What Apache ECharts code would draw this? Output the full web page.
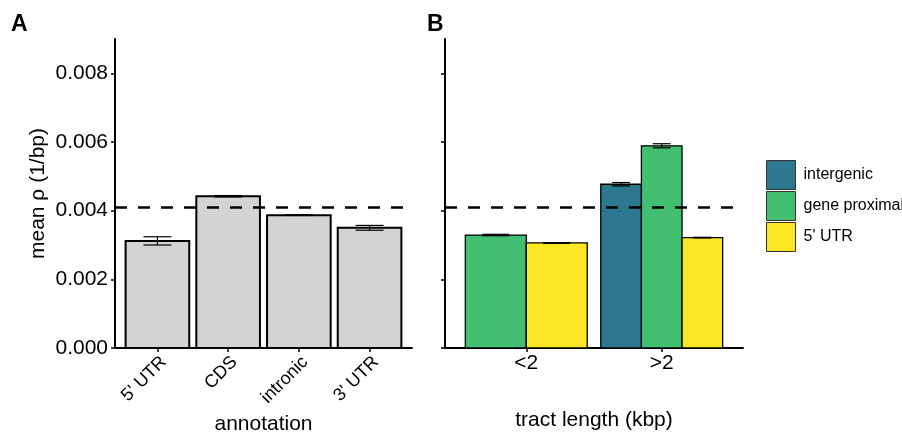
<!DOCTYPE html>
<html>
<head>
<meta charset="utf-8">
<script src="https://cdn.jsdelivr.net/npm/echarts@6/dist/echarts.min.js"></script>
<style>
  html, body { margin: 0; padding: 0; background: #fff; }
  #chart { width: 902px; height: 433px; }
</style>
</head>
<body>
<div id="chart"></div>
<script>
// panel A: mean rho by annotation
const annotations = ["5' UTR", 'CDS', 'intronic', "3' UTR"]
const annotMean = [0.00312, 0.00442, 0.00387, 0.00350]
const annotSe = [0.00012, 0.00002, 0.00001, 0.00007]

// panel B: mean rho by tract length and region
const tractGroups = ['<2', '>2']
const regionTypes = ['intergenic', 'gene proximal', "5' UTR"]
const regionColors = ['#2c788e', '#43bf71', '#fde725']
const intergenicMean = [null, 0.00477]
const intergenicSe = [null, 0.00005]
const geneProxMean = [0.00329, 0.00589]
const geneProxSe = [0.00002, 0.00006]
const utr5Mean = [0.00306, 0.003215]
const utr5Se = [0.00001, 0.00001]

// genome-wide mean (dashed line)
const genomeMean = 0.00409
const yTicks = [0, 0.002, 0.004, 0.006, 0.008]

const font = 'Liberation Sans, Arial, sans-serif'

const makeRender = (strokeW) => (params, api) => {
  const x = api.value(0)
  const y = api.value(1)
  const se = api.value(2)
  const w = api.value(3)
  const tl = api.coord([x - w / 2, y])
  const br = api.coord([x + w / 2, 0])
  const hw = w * 0.44 / 2
  const hi = api.coord([x, y + se])
  const lo = api.coord([x, y - se])
  const l = api.coord([x - hw, y])[0]
  const r = api.coord([x + hw, y])[0]
  const ls = { stroke: '#000', lineWidth: 1.2 }
  return {
    type: 'group',
    children: [
      { type: 'rect', shape: { x: tl[0], y: tl[1], width: br[0] - tl[0], height: br[1] - tl[1] },
        style: { fill: api.visual('color'), stroke: '#000', lineWidth: strokeW } },
      { type: 'line', shape: { x1: hi[0], y1: hi[1], x2: lo[0], y2: lo[1] }, style: ls },
      { type: 'line', shape: { x1: l, y1: hi[1], x2: r, y2: hi[1] }, style: ls },
      { type: 'line', shape: { x1: l, y1: lo[1], x2: r, y2: lo[1] }, style: ls }
    ]
  }
}

// dashed reference line drawn as a markLine on an empty line series
// (precision raised, default 2 would round 0.00409 down to 0)
const dashSeries = (gi) => ({
  type: 'line', xAxisIndex: gi, yAxisIndex: gi,
  data: [], showSymbol: false, silent: true, z: 5,
  markLine: {
    silent: true,
    precision: 10,
    symbol: 'none',
    label: { show: false },
    lineStyle: { color: '#000', width: 2.6, type: [12, 11] },
    data: [{ yAxis: genomeMean }]
  }
})

// panel A data: [x, mean, se, width]
const dataA = annotMean.map((m, i) => [i + 1, m, annotSe[i], 0.9])

// panel B: dodge bars within each group (width 0.9 shared by present bars)
const bMeans = [intergenicMean, geneProxMean, utr5Mean]
const bSes = [intergenicSe, geneProxSe, utr5Se]
const bData = regionTypes.map(() => [])
tractGroups.forEach((g, gi) => {
  const present = bMeans.map((arr, si) => si).filter(si => bMeans[si][gi] != null)
  const w = 0.9 / present.length
  present.forEach((si, k) => {
    const cx = gi + 1 - 0.45 + w * (k + 0.5)
    bData[si].push([cx, bMeans[si][gi], bSes[si][gi], w])
  })
})

const axisLine = { lineStyle: { color: '#000', width: 2 } }
const axisTick = (vals) => ({ length: 4, lineStyle: { color: '#000', width: 1.5 }, customValues: vals })
const titleText = { fontFamily: font, fontSize: 21, color: '#000' }

const option = {
  animation: false,
  backgroundColor: '#fff',
  title: [
    { text: 'A', left: 11, top: 13, padding: 0, textStyle: { fontFamily: font, fontSize: 23, fontWeight: 'bold', color: '#000' } },
    { text: 'B', left: 427, top: 13, padding: 0, textStyle: { fontFamily: font, fontSize: 23, fontWeight: 'bold', color: '#000' } }
  ],
  legend: {
    data: regionTypes,
    orient: 'vertical',
    left: 766,
    top: 160,
    padding: 0,
    itemWidth: 29,
    itemHeight: 29,
    itemGap: 1,
    icon: 'rect',
    itemStyle: { borderColor: '#333', borderWidth: 1 },
    textStyle: { fontFamily: font, fontSize: 16, color: '#000', padding: [0, 0, 0, 3] }
  },
  grid: [
    { left: 115, top: 39, width: 297, height: 309, outerBoundsMode: 'none' },
    { left: 445, top: 39, width: 298, height: 309, outerBoundsMode: 'none' }
  ],
  xAxis: [
    {
      gridIndex: 0, type: 'value', min: 0.4, max: 4.6,
      name: 'annotation', nameLocation: 'middle', nameGap: 62,
      nameTextStyle: titleText,
      axisLine, axisTick: axisTick([1, 2, 3, 4]), splitLine: { show: false },
      axisLabel: {
        customValues: [1, 2, 3, 4], rotate: 45, margin: 5, verticalAlign: 'top',
        fontFamily: font, fontSize: 18, color: '#000',
        formatter: v => annotations[Math.round(v) - 1]
      }
    },
    {
      gridIndex: 1, type: 'value', min: 0.4, max: 2.6,
      name: 'tract length (kbp)', nameLocation: 'middle', nameGap: 62,
      nameTextStyle: titleText,
      axisLine, axisTick: axisTick([1, 2]), splitLine: { show: false },
      axisLabel: {
        customValues: [1, 2], margin: 5,
        fontFamily: font, fontSize: 21, color: '#000',
        formatter: v => tractGroups[Math.round(v) - 1]
      }
    }
  ],
  yAxis: [
    {
      gridIndex: 0, type: 'value', min: 0, max: 0.009,
      name: 'mean ρ (1/bp)', nameLocation: 'middle', nameGap: 66,
      nameTextStyle: titleText,
      axisLine: { show: true, lineStyle: { color: '#000', width: 2 } },
      axisTick: { show: true, length: 4, lineStyle: { color: '#000', width: 1.5 }, customValues: yTicks },
      splitLine: { show: false },
      axisLabel: { customValues: yTicks, margin: 7, fontFamily: font, fontSize: 21, color: '#000', formatter: v => v.toFixed(3) }
    },
    {
      gridIndex: 1, type: 'value', min: 0, max: 0.009,
      axisLine: { show: true, lineStyle: { color: '#000', width: 2 } },
      axisTick: { show: true, length: 4, lineStyle: { color: '#000', width: 1.5 }, customValues: yTicks },
      splitLine: { show: false },
      axisLabel: { show: false }
    }
  ],
  series: [
    {
      name: 'annotation', type: 'custom', xAxisIndex: 0, yAxisIndex: 0,
      itemStyle: { color: '#d3d3d3' },
      renderItem: makeRender(2),
      data: dataA,
      z: 2
    },
    ...regionTypes.map((name, si) => ({
      name, type: 'custom', xAxisIndex: 1, yAxisIndex: 1,
      itemStyle: { color: regionColors[si] },
      renderItem: makeRender(1.3),
      data: bData[si],
      z: 2
    })),
    dashSeries(0),
    dashSeries(1)
  ]
}

const chart = echarts.init(document.getElementById('chart'))
chart.setOption(option)
</script>
</body>
</html>
